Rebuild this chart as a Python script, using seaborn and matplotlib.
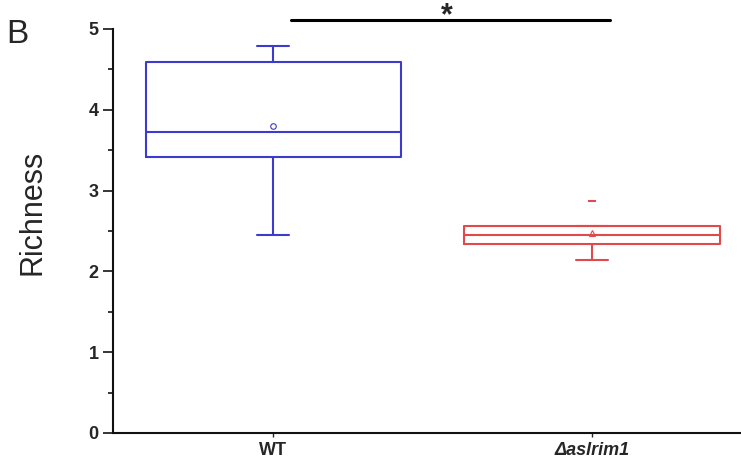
import pandas as pd
import matplotlib.pyplot as plt
import seaborn as sns
from matplotlib.ticker import MultipleLocator

# --- data ---
groups = ["WT", "Δaslrim1"]
wt_richness = [2.45, 3.42, 3.72, 4.59, 4.79]
ko_richness = [2.14, 2.34, 2.45, 2.56, 2.87]
colors = {"WT": "#3b3bd0", "Δaslrim1": "#e04a4a"}
mean_markers = {"WT": "o", "Δaslrim1": "^"}

df = pd.DataFrame({
    "group": ["WT"] * len(wt_richness) + ["Δaslrim1"] * len(ko_richness),
    "Richness": wt_richness + ko_richness,
})

sns.set_style("ticks")
plt.rcParams['font.family'] = ['Liberation Sans', 'DejaVu Sans']

fig = plt.figure(figsize=(7.41, 4.73), dpi=100)
ax = fig.add_axes([0.1525, 0.0846, 0.8475, 0.8541])

for g in groups:
    c = colors[g]
    sns.boxplot(data=df[df["group"] == g], x="group", y="Richness", order=groups,
                color=c, fill=False, width=0.8, whis=1.0, linewidth=1.5,
                showmeans=True,
                meanprops=dict(marker=mean_markers[g], markersize=4,
                               markerfacecolor="none", markeredgecolor=c,
                               markeredgewidth=0.8),
                flierprops=dict(marker="_", markersize=6, markeredgecolor=c,
                                markeredgewidth=1.5),
                capprops=dict(color=c, linewidth=1.5),
                capwidths=0.1, ax=ax)

ax.set_xlim(-0.502, 1.467)
ax.set_ylim(0, 5)
ax.yaxis.set_major_locator(MultipleLocator(1))
ax.yaxis.set_minor_locator(MultipleLocator(0.5))
ax.tick_params(axis="y", which="major", length=7, width=1.3, labelsize=13)
ax.tick_params(axis="y", which="minor", length=3.5, width=1.3)
ax.tick_params(axis="x", which="major", length=3, width=1.0, labelsize=13)
for lbl in ax.get_yticklabels():
    lbl.set_fontweight("bold")
ax.set_xticks([0, 1])
ax.set_xticklabels(groups, fontweight="bold")
ax.get_xticklabels()[1].set_fontstyle("italic")

ax.set_xlabel("")
ax.set_ylabel("Richness", fontsize=22)
ax.yaxis.set_label_coords(-0.104, 0.547)
for side in ["top", "right"]:
    ax.spines[side].set_visible(False)
for side in ["left", "bottom"]:
    ax.spines[side].set_linewidth(1.5)
    ax.spines[side].set_color("#111111")

# significance bar
ax.plot([0.056, 1.056], [5.11, 5.11], color="black", linewidth=2.2,
        clip_on=False)
ax.text(0.545, 5.06, "*", ha="center", va="baseline", fontsize=22,
        fontweight="bold", clip_on=False)

fig.text(0.008, 0.895, "B", fontsize=24, ha="left", va="bottom")

fig.savefig("out.png", dpi=100)
